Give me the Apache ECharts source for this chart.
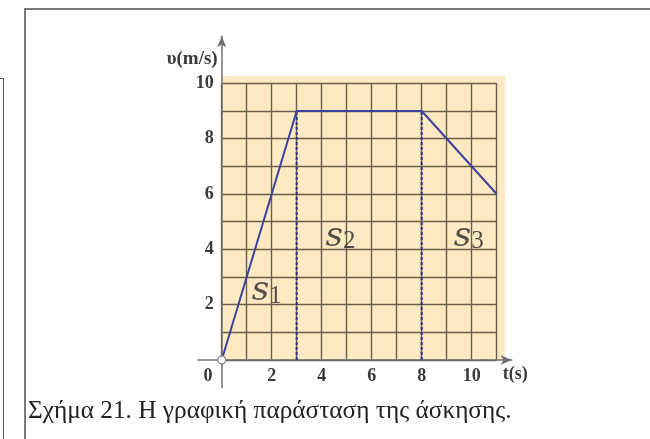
<!DOCTYPE html>
<html>
<head>
<meta charset="utf-8">
<script src="https://cdn.jsdelivr.net/npm/echarts@6/dist/echarts.min.js"></script>
<style>
  html, body { margin: 0; padding: 0; background: #fff; }
  #chart { width: 650px; height: 439px; }
</style>
</head>
<body>
<div id="chart"></div>
<script>
// Velocity–time graph: accelerate, cruise, decelerate
const times = [0, 3, 8, 11];          // t (s)
const speeds = [0, 9, 9, 6];          // υ (m/s)
const dividerTimes = [3, 8];          // dashed boundaries between the three areas
const xTickLabels = [2, 4, 6, 8, 10];
const yTickLabels = [2, 4, 6, 8, 10];
const areaNames = ['1', '2', '3'];    // subscripts of s
const areaAnchors = [[1.2, 1.86], [4.15, 3.84], [9.28, 3.84]];  // (t, υ) of each s label
const caption = 'Σχήμα 21. Η γραφική παράσταση της άσκησης.';

// layout: pixel origin and scale of the plot
const X0 = 221.7, PX_T = 25, Y0 = 360, PX_V = 27.67;
const T_MAX = 11, V_MAX = 10;

const tickFont = { fontFamily: 'Liberation Serif', fontWeight: 'bold', fontSize: 18, color: '#3a3a3a' };
const gridLine = { color: '#6b604a', width: 1.4 };
const axisGray = '#707070';

const chart = echarts.init(document.getElementById('chart'), null, { renderer: 'canvas' });

const dividerSeries = dividerTimes.map(t => {
  const i = times.indexOf(t);
  return {
    type: 'line', xAxisIndex: 0, yAxisIndex: 0, silent: true,
    data: [[t, 0], [t, speeds[i]]],
    symbol: 'none', z: 3,
    lineStyle: { color: '#2f3580', width: 2, type: [3, 2] }
  };
});

chart.setOption({
  animation: false,
  grid: [
    { left: X0, top: Y0 - V_MAX * PX_V, width: T_MAX * PX_T, height: V_MAX * PX_V },
    { left: X0 - 0.95 * PX_T, top: Y0 - 11.7 * PX_V, width: 12.55 * PX_T, height: 12.7 * PX_V }
  ],
  xAxis: [
    {
      gridIndex: 0, type: 'value', min: 0, max: T_MAX, interval: 1,
      axisLine: { show: false }, axisTick: { show: false },
      splitLine: { show: true, lineStyle: gridLine },
      axisLabel: { customValues: xTickLabels, margin: 7, ...tickFont }
    },
    {
      gridIndex: 1, type: 'value', min: -0.95, max: 11.6,
      axisLine: { show: true, onZero: true, symbol: ['none', 'arrow'], symbolSize: [7, 11],
        lineStyle: { color: axisGray, width: 1.5 } },
      axisTick: { show: false }, axisLabel: { show: false }, splitLine: { show: false },
      name: 't(s)', nameLocation: 'end', nameGap: -9,
      nameTextStyle: { ...tickFont, align: 'left', verticalAlign: 'top', padding: [5, 0, 0, 0] }
    }
  ],
  yAxis: [
    {
      gridIndex: 0, type: 'value', min: 0, max: V_MAX, interval: 1,
      axisLine: { show: false }, axisTick: { show: false },
      splitLine: { show: true, lineStyle: gridLine },
      axisLabel: { customValues: yTickLabels, margin: 8, ...tickFont }
    },
    {
      gridIndex: 1, type: 'value', min: -1, max: 11.7,
      axisLine: { show: true, onZero: true, symbol: ['none', 'arrow'], symbolSize: [7, 11],
        lineStyle: { color: axisGray, width: 1.5 } },
      axisTick: { show: false }, axisLabel: { show: false }, splitLine: { show: false },
      name: 'υ(m/s)', nameLocation: 'end', nameGap: -23,
      nameTextStyle: { ...tickFont, fontSize: 19, align: 'right', verticalAlign: 'middle', padding: [0, 4, 0, 0] }
    }
  ],
  graphic: [
    // warm paper behind the grid
    { type: 'rect', z: -10, silent: true,
      shape: { x: X0, y: 76, width: 505 - X0, height: Y0 - 76 },
      style: { fill: '#fde9c2' } },
    // page frame
    { type: 'polyline', z: -5, silent: true,
      shape: { points: [[25, 439], [25, 9], [650, 9]] },
      style: { stroke: '#7a7a7a', lineWidth: 2, fill: null } },
    { type: 'polyline', z: -5, silent: true,
      shape: { points: [[0, 78.5], [3.5, 78.5], [3.5, 439]] },
      style: { stroke: '#555', lineWidth: 1, fill: null } },
    // origin label
    { type: 'text', z: 10, silent: true,
      style: { text: '0', x: 208, y: 376, align: 'center', verticalAlign: 'middle',
        font: 'bold 18px "Liberation Serif"', fill: '#3a3a3a' } },
    // caption
    { type: 'text', z: 10, silent: true,
      style: { text: caption, x: 28, y: 399, verticalAlign: 'top',
        font: '25.3px "Liberation Serif"', fill: '#222' } }
  ],
  series: [
    ...dividerSeries,
    {
      type: 'line', xAxisIndex: 0, yAxisIndex: 0, z: 4, clip: false,
      data: times.map((t, i) => ({
        value: [t, speeds[i]],
        symbol: i === 0 ? 'circle' : 'none',
        symbolSize: 8,
        itemStyle: { color: '#fff', borderColor: '#8a8a8a', borderWidth: 1.5 }
      })),
      showSymbol: true,
      lineStyle: { color: '#3c409e', width: 2 }
    },
    {
      type: 'scatter', xAxisIndex: 0, yAxisIndex: 0, z: 5, silent: true,
      symbolSize: 0,
      data: areaAnchors.map((p, i) => ({ value: p, name: areaNames[i] })),
      label: {
        show: true, position: [0, 0], align: 'left', verticalAlign: 'bottom',
        formatter: p => '{s|s}{n|' + p.name + '}',
        rich: {
          s: { fontFamily: 'DejaVu Serif', fontStyle: 'italic', fontSize: 34, color: '#2a2a2a', lineHeight: 56, verticalAlign: 'bottom' },
          n: { fontFamily: 'Liberation Serif', fontSize: 25, color: '#2a2a2a', verticalAlign: 'bottom', lineHeight: 25 }
        }
      }
    }
  ]
});
</script>
</body>
</html>
